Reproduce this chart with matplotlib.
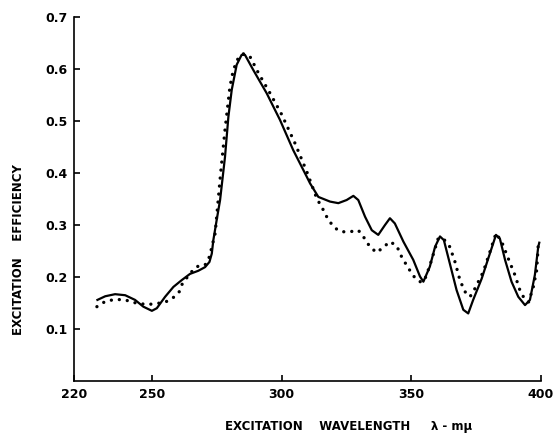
import matplotlib.pyplot as plt

# solid curve
wl_solid = [229.0, 232.0, 235.8, 239.7, 243.5, 246.7, 250.0, 251.9, 255.1, 258.3,
            261.5, 264.7, 267.9, 270.5, 272.2, 273.1, 273.7, 275.0, 276.3, 278.2,
            279.5, 280.8, 282.7, 284.6, 285.9, 289.1, 294.3, 299.4, 304.5, 309.7,
            311.0, 314.2, 318.7, 321.9, 325.1, 327.7, 329.6, 332.2, 334.8, 337.3,
            339.9, 341.8, 343.7, 347.0, 350.8, 353.4, 354.7, 357.2, 359.2, 361.1,
            362.6, 364.9, 367.5, 370.1, 372.0, 373.9, 377.2, 380.4, 382.7, 384.2,
            386.2, 388.7, 391.3, 393.9, 395.8, 397.7, 399.0, 399.4]
eff_solid = [0.156, 0.163, 0.167, 0.165, 0.156, 0.143, 0.135, 0.140, 0.162, 0.181,
             0.194, 0.206, 0.212, 0.219, 0.229, 0.245, 0.271, 0.310, 0.348, 0.431,
             0.508, 0.560, 0.608, 0.627, 0.627, 0.598, 0.553, 0.502, 0.444, 0.393,
             0.380, 0.354, 0.345, 0.342, 0.348, 0.356, 0.348, 0.316, 0.290, 0.281,
             0.300, 0.313, 0.303, 0.268, 0.233, 0.201, 0.191, 0.220, 0.258, 0.278,
             0.271, 0.226, 0.175, 0.137, 0.130, 0.156, 0.197, 0.246, 0.281, 0.274,
             0.233, 0.191, 0.162, 0.146, 0.156, 0.204, 0.258, 0.266]

# dotted curve
wl_dot = [228.8, 232.0, 235.8, 239.7, 242.9, 248.0, 250.0, 254.7, 257.0, 258.9,
          260.6, 261.5, 264.7, 267.3, 270.5, 272.2, 274.4, 276.5, 278.2, 280.1,
          281.4, 283.3, 285.3, 287.8, 291.1, 295.6, 300.1, 305.2, 309.7, 313.6,
          316.1, 318.0, 320.6, 323.2, 326.4, 329.6, 331.5, 334.1, 336.7, 339.2,
          341.8, 344.4, 346.3, 348.9, 351.5, 353.4, 355.0, 357.2, 360.4, 362.4,
          364.9, 366.9, 368.8, 370.7, 372.7, 374.6, 377.8, 380.4, 382.7, 384.9,
          387.4, 390.0, 391.9, 393.9, 395.3, 397.1, 398.4, 399.0]
eff_dot = [0.143, 0.153, 0.157, 0.156, 0.151, 0.147, 0.148, 0.151, 0.156, 0.163,
           0.172, 0.185, 0.207, 0.220, 0.223, 0.239, 0.284, 0.399, 0.483, 0.566,
           0.598, 0.621, 0.629, 0.624, 0.592, 0.553, 0.512, 0.457, 0.403, 0.351,
           0.329, 0.310, 0.294, 0.287, 0.287, 0.290, 0.278, 0.258, 0.247, 0.257,
           0.268, 0.260, 0.239, 0.217, 0.198, 0.191, 0.192, 0.222, 0.274, 0.274,
           0.258, 0.229, 0.194, 0.172, 0.162, 0.178, 0.210, 0.249, 0.284, 0.268,
           0.236, 0.204, 0.175, 0.156, 0.152, 0.181, 0.213, 0.262]

x_ticks = [220, 250, 300, 350, 400]
y_ticks = [0.1, 0.2, 0.3, 0.4, 0.5, 0.6, 0.7]
y_tick_labels = ["0.1", "0.2", "0.3", "0.4", "0.5", "0.6", "0.7"]

fig = plt.figure(figsize=(5.53, 4.34), dpi=100)
ax = fig.add_axes([0.134, 0.122, 0.844, 0.839])

ax.plot(wl_solid, eff_solid, color="black", lw=1.6, solid_joinstyle="round")
ax.plot(wl_dot, eff_dot, color="black", lw=2.4, linestyle=(0, (0.01, 2.4)),
        dash_capstyle="round")

ax.set_xlim(220, 400)
ax.set_ylim(0, 0.7)
ax.spines["top"].set_visible(False)
ax.spines["right"].set_visible(False)
ax.spines["left"].set_linewidth(1.2)
ax.spines["bottom"].set_linewidth(1.2)

ax.set_xticks(x_ticks)
ax.set_yticks(y_ticks)
ax.set_yticklabels(y_tick_labels)
ax.tick_params(direction="in", length=4, width=1.2, labelsize=9, pad=5)
for lbl in ax.get_xticklabels() + ax.get_yticklabels():
    lbl.set_fontweight("bold")

fig.text(0.033, 0.424, "EXCITATION    EFFICIENCY", rotation=90, ha="center",
         va="center", fontsize=8.5, fontweight="bold")
fig.text(0.63, 0.002, "EXCITATION    WAVELENGTH     \u03bb - m\u03bc", ha="center",
         va="bottom", fontsize=8.5, fontweight="bold")

fig.savefig("out.png", dpi=100)
